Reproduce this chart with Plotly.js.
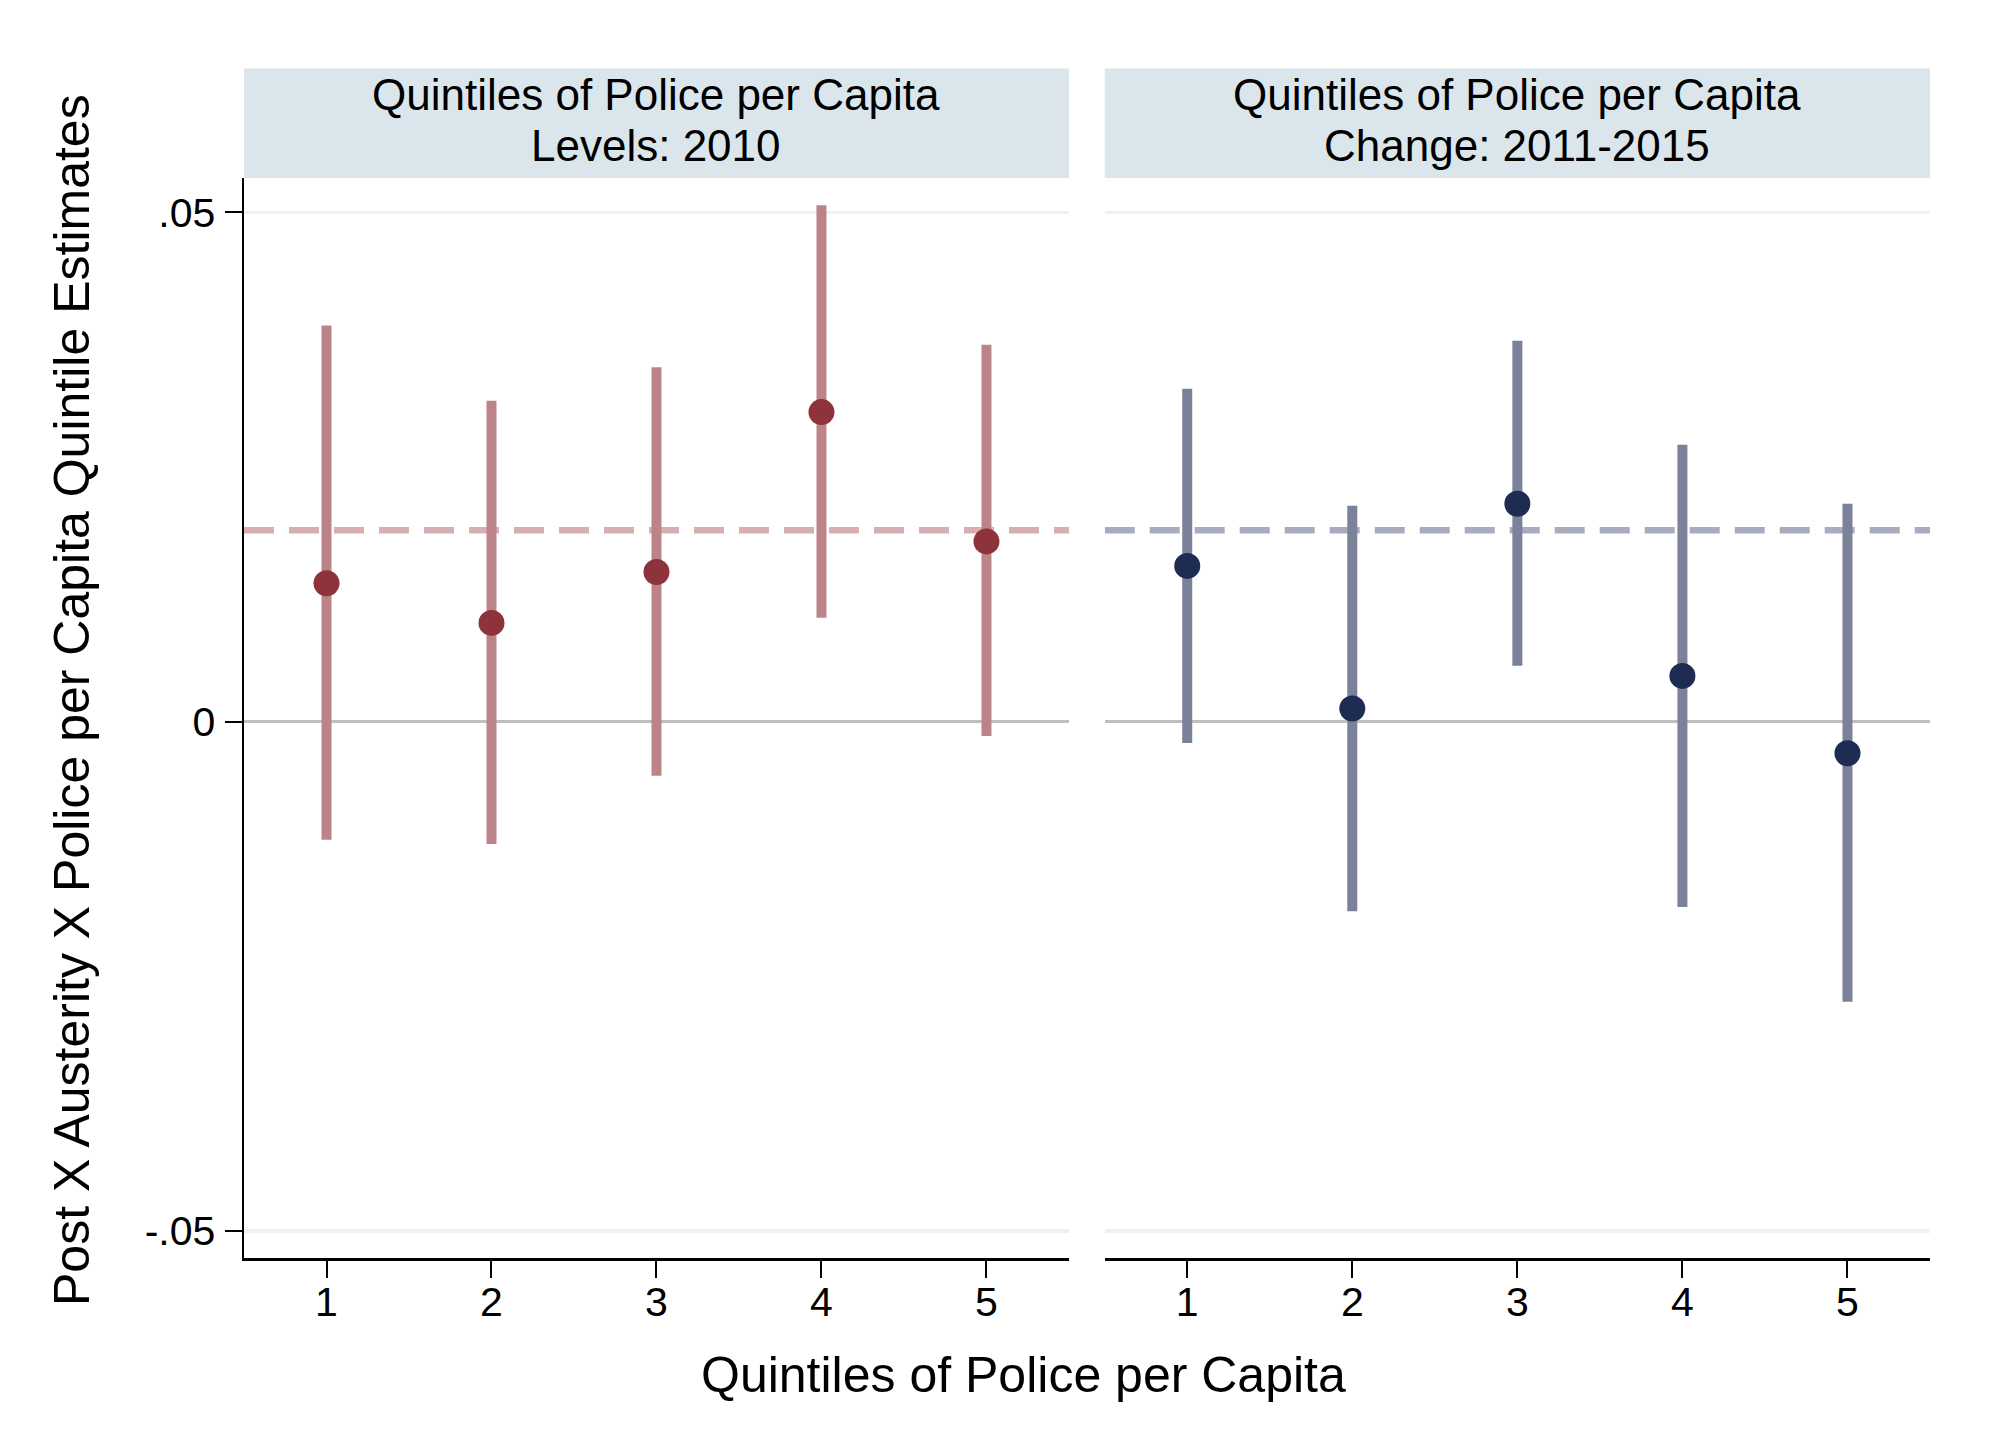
<!DOCTYPE html>
<html>
<head>
<meta charset="utf-8">
<script src="https://cdn.plot.ly/plotly-3.0.1.min.js"></script>
<style>html,body{margin:0;padding:0;background:#fff;}#chart{width:2000px;height:1455px;}</style>
</head>
<body>
<div id="chart"></div>
<script>
// ---- data ----
const quintiles = [1, 2, 3, 4, 5];
const tickLabelsX = ["1", "2", "3", "4", "5"];
const tickValsY = [-0.05, 0, 0.05];
const tickLabelsY = ["-.05", "0", ".05"];

const levelsEst   = [0.0136, 0.0097, 0.0147, 0.0304, 0.0177];
const levelsUpper = [0.0389, 0.0315, 0.0348, 0.0507, 0.0370];
const levelsLower = [-0.0116, -0.0120, -0.0053, 0.0102, -0.0014];

const changeEst   = [0.0153, 0.0013, 0.0214, 0.0045, -0.0031];
const changeUpper = [0.0327, 0.0212, 0.0374, 0.0272, 0.0214];
const changeLower = [-0.0021, -0.0186, 0.0055, -0.0182, -0.0275];

const refLevels = [0.0188, 0.0188];   // dashed reference line, left panel
const refChange = [0.0188, 0.0188];   // dashed reference line, right panel
const refX = [0.5, 5.5];

const panelTitles = [
  ["Quintiles of Police per Capita", "Levels: 2010"],
  ["Quintiles of Police per Capita", "Change: 2011-2015"]
];
const xTitle = "Quintiles of Police per Capita";
const yTitle = "Post X Austerity X Police per Capita Quintile Estimates";

// ---- styling ----
const FONT = "Liberation Sans, Arial, Helvetica, sans-serif";
const colLevBar = "#BC8488", colLevPt = "#8E323C", colLevRef = "#D6AFB2";
const colChgBar = "#7A8199", colChgPt = "#1E2B52", colChgRef = "#A8ACBE";

function diff(a, b) { return a.map((v, i) => v - b[i]); }

function ciTrace(est, up, lo, xa, ya, barCol, ptCol) {
  return {
    type: "scatter", mode: "markers", x: quintiles, y: est, xaxis: xa, yaxis: ya,
    marker: { size: 26, color: ptCol },
    error_y: { type: "data", symmetric: false, array: diff(up, est), arrayminus: diff(est, lo),
               color: barCol, thickness: 10, width: 0 },
    showlegend: false, hoverinfo: "x+y"
  };
}
function refTrace(vals, xa, ya, col) {
  return {
    type: "scatter", mode: "lines", x: refX, y: vals, xaxis: xa, yaxis: ya,
    line: { color: col, width: 6.5, dash: "30px,15px" }, showlegend: false, hoverinfo: "skip"
  };
}

const traces = [
  refTrace(refLevels, "x", "y", colLevRef),
  ciTrace(levelsEst, levelsUpper, levelsLower, "x", "y", colLevBar, colLevPt),
  refTrace(refChange, "x2", "y2", colChgRef),
  ciTrace(changeEst, changeUpper, changeLower, "x2", "y2", colChgBar, colChgPt)
];

const yRange = [-0.05265, 0.05338];
const xRange = [0.5, 5.5];
const stripTop = 1.1013;
const STRIP_FONT = 44;

const xCommon = {
  range: xRange, tickvals: quintiles, ticktext: tickLabelsX, ticks: "outside", ticklen: 17,
  tickwidth: 2, tickcolor: "#000", showline: true, linecolor: "#000", linewidth: 2.5,
  showgrid: false, zeroline: false, tickfont: { family: FONT, size: 41, color: "#000" },
  ticklabelstandoff: -11, fixedrange: true
};
const yCommon = {
  range: yRange, tickvals: tickValsY, ticktext: tickLabelsY, showgrid: true,
  gridcolor: "#EAF2F3", gridwidth: 3.5, zeroline: true, zerolinecolor: "#BFBFBF",
  zerolinewidth: 3.5, fixedrange: true
};

const layout = {
  width: 2000, height: 1455,
  paper_bgcolor: "#fff", plot_bgcolor: "#fff",
  margin: { l: 244, r: 70, t: 178, b: 197 },
  font: { family: FONT, color: "#000" },
  xaxis: Object.assign({}, xCommon, { domain: [0, 0.4893], anchor: "y" }),
  xaxis2: Object.assign({}, xCommon, { domain: [0.5105, 1], anchor: "y2" }),
  yaxis: Object.assign({}, yCommon, {
    anchor: "x", showline: true, linecolor: "#000", linewidth: 2.5,
    ticks: "outside", ticklen: 17, tickwidth: 2, tickcolor: "#000",
    tickfont: { family: FONT, size: 41, color: "#000" }, ticklabelstandoff: 1
  }),
  yaxis2: Object.assign({}, yCommon, { anchor: "x2", matches: "y", showticklabels: false, ticks: "", showline: false }),
  shapes: [
    { type: "rect", xref: "x domain", yref: "paper", x0: 0, x1: 1, y0: 1, y1: stripTop,
      fillcolor: "#DAE6EC", line: { width: 0 }, layer: "below" },
    { type: "rect", xref: "x2 domain", yref: "paper", x0: 0, x1: 1, y0: 1, y1: stripTop,
      fillcolor: "#DAE6EC", line: { width: 0 }, layer: "below" }
  ],
  annotations: [
    { xref: "x domain", yref: "paper", x: 0.5, y: 1.0771, text: panelTitles[0][0], showarrow: false,
      xanchor: "center", yanchor: "middle", font: { family: FONT, size: STRIP_FONT, color: "#000" } },
    { xref: "x domain", yref: "paper", x: 0.5, y: 1.0299, text: panelTitles[0][1], showarrow: false,
      xanchor: "center", yanchor: "middle", font: { family: FONT, size: STRIP_FONT, color: "#000" } },
    { xref: "x2 domain", yref: "paper", x: 0.5, y: 1.0771, text: panelTitles[1][0], showarrow: false,
      xanchor: "center", yanchor: "middle", font: { family: FONT, size: STRIP_FONT, color: "#000" } },
    { xref: "x2 domain", yref: "paper", x: 0.5, y: 1.0299, text: panelTitles[1][1], showarrow: false,
      xanchor: "center", yanchor: "middle", font: { family: FONT, size: STRIP_FONT, color: "#000" } },
    { xref: "paper", yref: "paper", x: 0.4626, y: -0.1086, text: xTitle, showarrow: false,
      xanchor: "center", yanchor: "middle", font: { family: FONT, size: 50, color: "#000" } },
    { xref: "paper", yref: "paper", x: -0.1016, y: 0.5164, text: yTitle, showarrow: false, textangle: -90,
      xanchor: "center", yanchor: "middle", font: { family: FONT, size: 50, color: "#000" } }
  ]
};

Plotly.newPlot("chart", traces, layout, { staticPlot: true, displayModeBar: false });
</script>
</body>
</html>
